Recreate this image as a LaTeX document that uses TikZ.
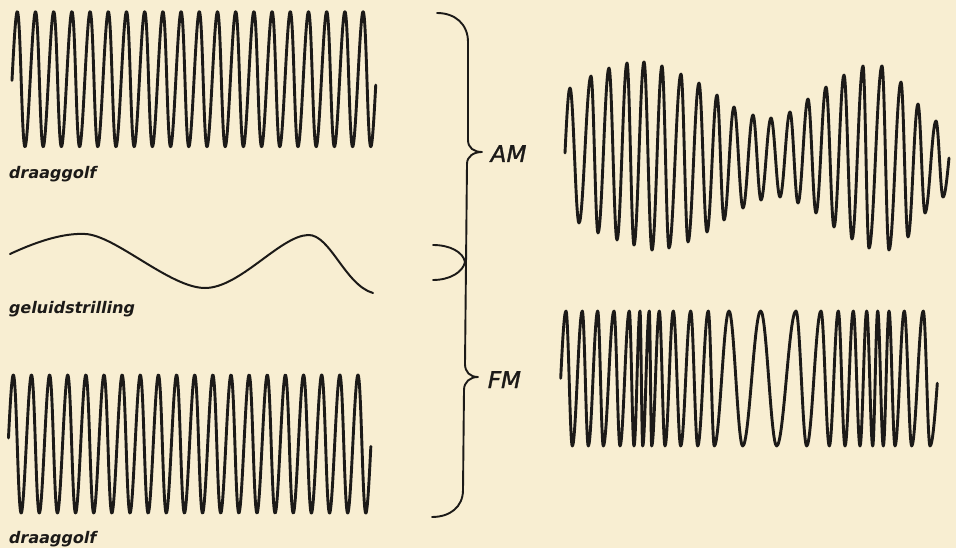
\documentclass[tikz,border=0pt]{standalone}
\usepackage{fontspec}
\newfontfamily\labfont[FakeSlant=0.2]{DejaVu Sans Bold}
\newfontfamily\modfont[FakeSlant=0.2,FakeBold=1.5]{DejaVu Sans}
\definecolor{paper}{RGB}{248,238,210}
\definecolor{ink}{RGB}{28,26,24}
\begin{document}
\begin{tikzpicture}[x=1pt,y=-1pt,
  wave/.style={draw=ink,line width=2.9pt,line join=round,line cap=round},
  sound/.style={draw=ink,line width=2pt,line cap=round},
  bracepath/.style={draw=ink,line width=1.9pt,line cap=round,line join=round},
  lab/.style={inner sep=0pt,anchor=base west,text=ink,font=\labfont\fontsize{16}{19}\selectfont},
  modlab/.style={inner sep=0pt,anchor=base west,text=ink,font=\modfont\fontsize{23}{26}\selectfont}]
\useasboundingbox (0,0) rectangle (956,548);
\fill[paper] (0,0) rectangle (956,548);

% top carrier
\draw[wave] plot[domain=-1:7195,samples=1400,variable=\t]
  ({16.6+(\t-90)/360*18.2+0.7*sin(\t)},{79.2-67.5*sin(\t)});
% bottom carrier
\draw[wave] plot[domain=5:7198,samples=1400,variable=\t]
  ({12.7+(\t-90)/360*18.14+0.6*sin(\t)},{444-69*sin(\t)});

% sound wave
\draw[sound] (10,254) .. controls (40,240) and (65,233) .. (85,234)
  .. controls (115,235) and (170,288) .. (205,288)
  .. controls (240,288) and (280,236) .. (308,235)
  .. controls (330,234) and (345,285) .. (373,293);

% labels
\node[lab] (carrier1) at (8,179) {draaggolf};
\node[lab] (soundlab) at (8,313) {geluidstrilling};
\node[lab] (carrier2) at (8,543) {draaggolf};
\node[modlab] (am) at (489,162) {AM};
\node[modlab] (fm) at (486,388) {FM};

% big brace
\draw[bracepath] (437,13) .. controls (455,13) and (468,24) .. (468,42)
  -- (468,140) .. controls (468,148) and (474,152) .. (482,152)
  .. controls (474,152) and (467,156) .. (467,164)
  -- (465,364) .. controls (465,372) and (470,377) .. (478,377)
  .. controls (470,377) and (464,382) .. (464,390)
  -- (463,490) .. controls (463,507) and (450,517) .. (432,517);
% small brace
\draw[bracepath] (433,245) .. controls (450,245) and (463,252) .. (465,262)
  .. controls (463,272) and (450,280) .. (433,280);

% AM wave
\draw[wave] (565,153) .. controls +(1.63,-33.3) and +(-1.81,0) .. (570,88)
  \foreach \x/\y/\d in {579/223/3.27, 591/76/4.36, 598/233/2.54, 609/68/4.0,
    617/240/2.91, 627/63/3.63, 634/245/2.54, 644/62/3.63, 652/250/2.91,
    662/66/3.63, 669/248/2.54, 681/74/4.36, 688/242/2.54, 699/83/4.0,
    707/232/2.91, 717/95/3.63, 724/220/2.54, 734/107/3.63, 743/208/3.27,
    753/115/3.63, 761/200/2.91, 771/118/3.63, 780/197/3.27, 790/112/3.63,
    798/203/2.91, 808/99/3.63, 816/213/2.91, 826/87/3.63, 834/227/2.91,
    844/75/3.63, 852/239/2.91, 863/66/4.0, 869/248/2.18, 882/66/4.72,
    889/250/2.54, 901/82/4.36, 908/237/2.54, 918/104/3.63, 925/213/2.54,
    936/121/4.0, 943/197/2.54}
  { .. controls +(\d,0) and +(-\d,0) .. (\x,\y) }
  .. controls +(2.17,0) and +(-1.96,20) .. (949,158);

% FM wave
\draw[wave] (560.7,378.3) .. controls +(1.73,-34.6) and +(-1.92,0) .. (566,311)
  \foreach \x/\y/\d in {572.3/446/2.29, 582.3/311/3.63, 588.3/446/2.18,
    597.7/311/3.42, 603.3/446/2.04, 614/311/3.89, 620/446/2.18,
    629.3/311/3.38, 634/446/1.71, 640/311/2.18, 642.7/446/0.98,
    649.3/311/2.40, 651.7/446/0.87, 659.3/311/2.76, 665/446/2.07,
    673.3/311/3.02, 680.7/446/2.69, 690.7/311/3.63, 697.7/446/2.54,
    708.3/311/3.85, 714.3/446/2.18, 729/311/5.34, 742.7/446/4.98,
    760.7/311/6.54, 776.7/446/5.81, 796/311/7.01, 806.7/446/3.89,
    821/311/5.20, 829.3/446/3.02, 838.3/311/3.27, 845/446/2.43,
    853.3/311/3.02, 860/446/2.43, 866.7/311/2.43, 872.7/446/2.18,
    877.7/311/1.82, 883.3/446/2.04, 889/311/2.07, 895/446/2.18,
    904.3/311/3.38, 911.7/446/2.69, 923.3/311/4.22, 930/446/2.43}
  { .. controls +(\d,0) and +(-\d,0) .. (\x,\y) }
  .. controls +(2.64,0) and +(-2.38,32.1) .. (937.3,383.3);
\end{tikzpicture}
\end{document}
